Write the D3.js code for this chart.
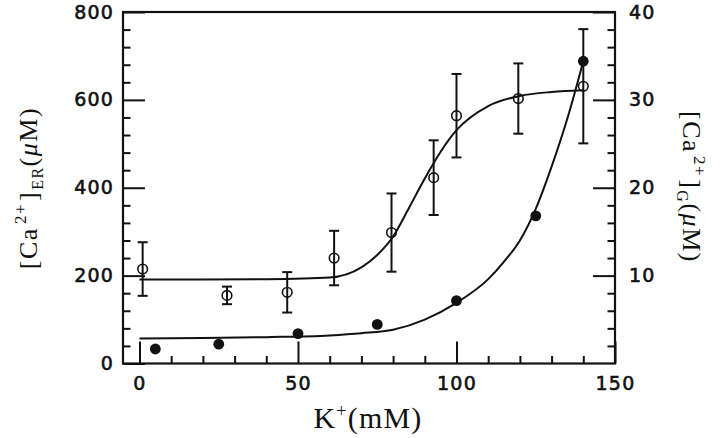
<!DOCTYPE html>
<html>
<head>
<meta charset="utf-8">
<script src="https://cdn.jsdelivr.net/npm/d3@7"></script>
<style>
  html, body { margin: 0; padding: 0; background: #fff; }
  svg { display: block; }
  .tick text { font-family: "DejaVu Sans", sans-serif; font-size: 19px; letter-spacing: 1.2px; fill: #111; stroke: #111; stroke-width: 0.6px; }
  .title { font-family: "Liberation Serif", serif; fill: #111; }
</style>
</head>
<body>
<svg id="chart" width="720" height="438"></svg>
<script>
// ---- Data ----
// Open circles: [Ca2+]ER (left axis, µM) with error bars
const kER   = [1, 27.6, 46.6, 61.4, 79.5, 92.8, 100, 119.5, 140];
const caER  = [215, 155, 162, 240, 298, 423, 564, 603, 631];
const errER = [61, 20, 46, 62, 89, 85, 95, 80, 130];

// Filled circles: [Ca2+]G (right axis, µM)
const kG  = [5, 25, 50, 75, 100, 125, 140];
const caG = [1.65, 2.2, 3.4, 4.45, 7.15, 16.8, 34.4];

// Fitted curves
const fitKER = [0, 20, 40, 60, 70, 75, 80, 85, 90, 95, 100, 110, 120, 130, 140];
const fitER  = [191, 191, 192, 196, 219, 247, 289, 354, 421, 482, 531, 586, 609, 618, 622];
const fitKG  = [0, 20, 40, 60, 70, 80, 90, 100, 110, 115, 120, 125, 130, 135, 140];
const fitG   = [2.85, 2.9, 3.0, 3.2, 3.45, 3.85, 5.0, 6.9, 9.6, 11.6, 14.0, 17.6, 22.4, 27.9, 34.4];

// Tick values
const xMajor = [0, 50, 100, 150];
const xMinor = [10, 20, 30, 40, 60, 70, 80, 90, 110, 120, 130, 140];
const yLMajor = [0, 200, 400, 600, 800];
const yLMinor = [40, 80, 120, 160, 240, 280, 320, 360, 440, 480, 520, 560, 640, 680, 720, 760];
const yRMajor = [10, 20, 30, 40];
const yRMinor = [2, 4, 6, 8, 12, 14, 16, 18, 22, 24, 26, 28, 32, 34, 36, 38];

// ---- Layout ----
const L = 123, R = 615, T = 12, B = 363.5;
const svg = d3.select("#chart");

const x  = d3.scaleLinear().domain([-5.2, 150]).range([L, R]);
const yL = d3.scaleLinear().domain([0, 800]).range([B, T]);
const yR = d3.scaleLinear().domain([0, 40]).range([B, T]);

const MAJ = 22, MIN = 7.5;

function styleAxis(g) {
  g.select(".domain").remove();
  g.selectAll(".tick line").attr("stroke", "#111").attr("stroke-width", 2);
}

// bottom axis
svg.append("g").attr("transform", `translate(0,${B})`)
  .call(d3.axisBottom(x).tickValues(xMajor).tickSizeInner(-MAJ).tickSizeOuter(0).tickPadding(13).tickFormat(d3.format("d")))
  .call(styleAxis);
svg.append("g").attr("transform", `translate(0,${B})`)
  .call(d3.axisBottom(x).tickValues(xMinor).tickSizeInner(-MIN).tickSizeOuter(0).tickFormat(""))
  .call(styleAxis);

// left axis
svg.append("g").attr("transform", `translate(${L},0)`)
  .call(d3.axisLeft(yL).tickValues(yLMajor).tickSizeInner(-MAJ).tickSizeOuter(0).tickPadding(9).tickFormat(d3.format("d")))
  .call(styleAxis);
svg.append("g").attr("transform", `translate(${L},0)`)
  .call(d3.axisLeft(yL).tickValues(yLMinor).tickSizeInner(-MIN).tickSizeOuter(0).tickFormat(""))
  .call(styleAxis);

// right axis
svg.append("g").attr("transform", `translate(${R},0)`)
  .call(d3.axisRight(yR).tickValues(yRMajor).tickSizeInner(-MAJ).tickSizeOuter(0).tickPadding(14).tickFormat(d3.format("d")))
  .call(styleAxis);
svg.append("g").attr("transform", `translate(${R},0)`)
  .call(d3.axisRight(yR).tickValues(yRMinor).tickSizeInner(-MIN).tickSizeOuter(0).tickFormat(""))
  .call(styleAxis);

// frame
svg.append("rect").attr("x", L).attr("y", T).attr("width", R - L).attr("height", B - T)
  .attr("fill", "none").attr("stroke", "#111").attr("stroke-width", 2.2);

// ---- Curves ----
const lineER = d3.line().x((d, i) => x(fitKER[i])).y(d => yL(d)).curve(d3.curveMonotoneX);
const lineG  = d3.line().x((d, i) => x(fitKG[i])).y(d => yR(d)).curve(d3.curveMonotoneX);
svg.append("path").attr("d", lineER(fitER)).attr("fill", "none").attr("stroke", "#111").attr("stroke-width", 2);
svg.append("path").attr("d", lineG(fitG)).attr("fill", "none").attr("stroke", "#111").attr("stroke-width", 2);

// ---- Error bars ----
const erData = kER.map((k, i) => ({k, v: caER[i], e: errER[i]}));
const eb = svg.append("g").attr("stroke", "#111").attr("stroke-width", 2);
const cap = 5;
erData.forEach(d => {
  eb.append("line").attr("x1", x(d.k)).attr("x2", x(d.k)).attr("y1", yL(d.v - d.e)).attr("y2", yL(d.v + d.e));
  eb.append("line").attr("x1", x(d.k) - cap).attr("x2", x(d.k) + cap).attr("y1", yL(d.v + d.e)).attr("y2", yL(d.v + d.e));
  eb.append("line").attr("x1", x(d.k) - cap).attr("x2", x(d.k) + cap).attr("y1", yL(d.v - d.e)).attr("y2", yL(d.v - d.e));
});

// open circles
svg.append("g").selectAll("circle").data(erData).join("circle")
  .attr("cx", d => x(d.k)).attr("cy", d => yL(d.v)).attr("r", 4.8)
  .attr("fill", "none").attr("stroke", "#111").attr("stroke-width", 1.6);

// filled circles
svg.append("g").selectAll("circle").data(kG.map((k, i) => ({k, v: caG[i]}))).join("circle")
  .attr("cx", d => x(d.k)).attr("cy", d => yR(d.v)).attr("r", 5.4)
  .attr("fill", "#111");

// ---- Titles ----
// x title
const xt = svg.append("text").attr("class", "title")
  .attr("x", (L + R) / 2 - 1).attr("y", 428).attr("text-anchor", "middle")
  .style("font-size", "30px").style("letter-spacing", "1.2px");
xt.append("tspan").text("K");
xt.append("tspan").attr("dy", -11).style("font-size", "18px").text("+");
xt.append("tspan").attr("dy", 11).text("(mM)");

// left title
const lt = svg.append("text").attr("class", "title")
  .attr("transform", "translate(37,188) rotate(-90)").attr("text-anchor", "middle")
  .style("font-size", "26px").style("letter-spacing", "1.5px");
lt.append("tspan").text("[Ca");
lt.append("tspan").attr("dx", 3).attr("dy", -11).style("font-size", "17px").text("2+");
lt.append("tspan").attr("dx", 2).attr("dy", 11).text("]");
lt.append("tspan").attr("dx", 1).attr("dy", 6).style("font-size", "16px").text("ER");
lt.append("tspan").attr("dy", -6).text("(");
lt.append("tspan").style("font-style", "italic").text("μ");
lt.append("tspan").text("M)");

// right title
const rt = svg.append("text").attr("class", "title")
  .attr("transform", "translate(683,187) rotate(90)").attr("text-anchor", "middle")
  .style("font-size", "26px").style("letter-spacing", "1.5px");
rt.append("tspan").text("[Ca");
rt.append("tspan").attr("dx", 3).attr("dy", -11).style("font-size", "17px").text("2+");
rt.append("tspan").attr("dx", 2).attr("dy", 11).text("]");
rt.append("tspan").attr("dx", 1).attr("dy", 6).style("font-size", "16px").text("G");
rt.append("tspan").attr("dy", -6).text("(");
rt.append("tspan").style("font-style", "italic").text("μ");
rt.append("tspan").text("M)");
</script>
</body>
</html>
